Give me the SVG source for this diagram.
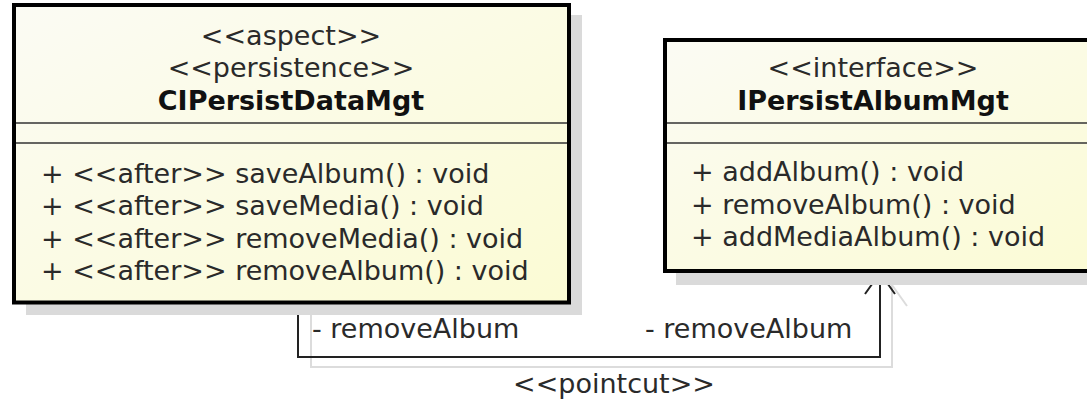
<svg xmlns="http://www.w3.org/2000/svg" width="1087" height="407" viewBox="0 0 1087 407">
<defs>
<linearGradient id="fill" x1="0" y1="0" x2="1" y2="1">
<stop offset="0" stop-color="#fbfbf4"/>
<stop offset="1" stop-color="#fbfbd4"/>
</linearGradient>
<style>
text{font-family:"DejaVu Sans","Verdana",sans-serif;font-size:27px;fill:#2a2a2a;}
.title{font-weight:bold;text-anchor:middle;fill:#111;}
.st{text-anchor:middle;}
.box{fill:url(#fill);stroke:#000;stroke-width:4;}
.shadow{fill:#dadada;}
.sep{stroke:#333;stroke-width:1.5;}
.conn{fill:none;stroke:#222;stroke-width:2;}
.connshadow{fill:none;stroke:#dcdcdc;stroke-width:2;}
</style>
</defs>
<g id="connectors">
<path class="connshadow" d="M311,315 V367 H892 V285"/>
<path class="connshadow" d="M892,285 L907,306"/>
<path class="conn" d="M298,304 V357 H880 V274"/>
<path class="conn" stroke-width="2.5" d="M865,294 L880,273 L895,294"/>
<text x="312" y="338">- removeAlbum</text>
<text x="645" y="338">- removeAlbum</text>
<text class="st" x="614" y="393">&lt;&lt;pointcut&gt;&gt;</text>
</g>
<g id="CIPersistDataMgt">
<rect class="shadow" x="26" y="15" width="556" height="300"/>
<rect class="box" x="14" y="5" width="555" height="297.5"/>
<line class="sep" x1="16" y1="123" x2="567" y2="123"/>
<line class="sep" x1="16" y1="143" x2="567" y2="143"/>
<text class="st" x="291" y="45">&lt;&lt;aspect&gt;&gt;</text>
<text class="st" x="291" y="77">&lt;&lt;persistence&gt;&gt;</text>
<text class="title" x="291" y="110">CIPersistDataMgt</text>
<text x="41" y="183">+ &lt;&lt;after&gt;&gt; saveAlbum() : void</text>
<text x="41" y="215">+ &lt;&lt;after&gt;&gt; saveMedia() : void</text>
<text x="41" y="248">+ &lt;&lt;after&gt;&gt; removeMedia() : void</text>
<text x="41" y="280">+ &lt;&lt;after&gt;&gt; removeAlbum() : void</text>
</g>
<g id="IPersistAlbumMgt">
<rect class="shadow" x="676" y="50" width="430" height="235"/>
<rect class="box" x="665" y="40" width="440" height="231"/>
<line class="sep" x1="667" y1="123" x2="1087" y2="123"/>
<line class="sep" x1="667" y1="143" x2="1087" y2="143"/>
<text class="st" x="873" y="77">&lt;&lt;interface&gt;&gt;</text>
<text class="title" x="873" y="110">IPersistAlbumMgt</text>
<text x="691" y="181">+ addAlbum() : void</text>
<text x="691" y="214">+ removeAlbum() : void</text>
<text x="691" y="246">+ addMediaAlbum() : void</text>
</g>
</svg>
